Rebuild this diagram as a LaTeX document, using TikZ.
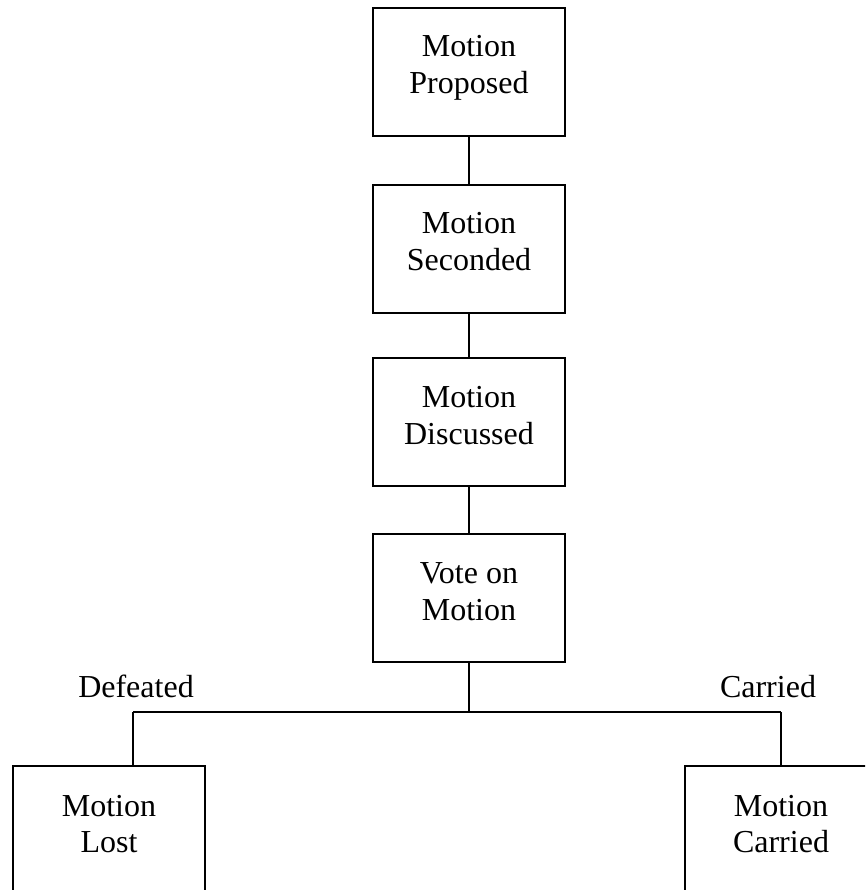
\documentclass[tikz,border=0pt]{standalone}
\usepackage{fontspec}
\setmainfont{Liberation Serif}
\begin{document}
\begin{tikzpicture}[x=1pt,y=-1pt,line width=2pt,
  box/.style={draw,rectangle,minimum width=192pt,minimum height=128pt,inner sep=0pt,anchor=north},
  txt/.style={anchor=base,inner sep=0pt,font=\fontsize{32}{37}\selectfont}]
\useasboundingbox (0,0) rectangle (865,890);
\clip (0,0) rectangle (865,890);
% boxes
\node[box] (prop) at (469,7) {};
\node[box] (sec) at (469,184) {};
\node[box] (disc) at (469,357) {};
\node[box] (vote) at (469,533) {};
\node[box,minimum height=160pt] (lost) at (109,765) {};
\node[box,minimum height=160pt] (carr) at (781,765) {};
% texts
\node[txt] (t1a) at (469,57) {Motion};
\node[txt] (t1b) at (469,94) {Proposed};
\node[txt] (t2a) at (469,234) {Motion};
\node[txt] (t2b) at (469,271) {Seconded};
\node[txt] (t3a) at (469,407) {Motion};
\node[txt] (t3b) at (469,444) {Discussed};
\node[txt] (t4a) at (469,583) {Vote on};
\node[txt] (t4b) at (469,620) {Motion};
\node[txt] (t5a) at (109,816) {Motion};
\node[txt] (t5b) at (109,852) {Lost};
\node[txt] (t6a) at (781,816) {Motion};
\node[txt] (t6b) at (781,852) {Carried};
\node[txt] (ldef) at (136,697) {Defeated};
\node[txt] (lcar) at (768,697) {Carried};
% connectors
\coordinate (j) at (469,712);
\coordinate (jl) at (133,712);
\coordinate (jr) at (781,712);
\draw (prop) -- (sec);
\draw (sec) -- (disc);
\draw (disc) -- (vote);
\draw (vote) -- (j);
\draw (jl) -- (jr);
\draw (jl) -- (jl |- lost.north);
\draw (jr) -- (carr);
\end{tikzpicture}
\end{document}
